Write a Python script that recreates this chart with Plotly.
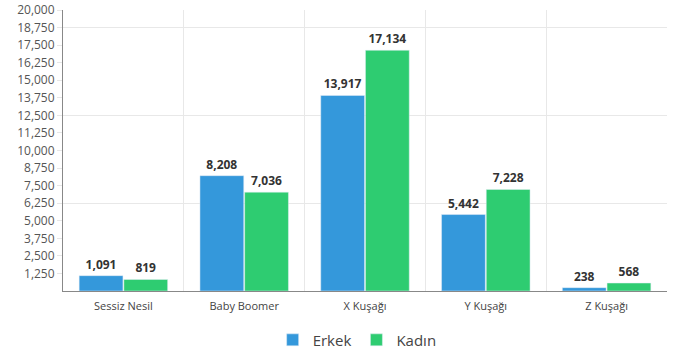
import plotly.graph_objects as go

categories = ["Sessiz Nesil", "Baby Boomer", "X Kuşağı", "Y Kuşağı", "Z Kuşağı"]
erkek = [1091, 8208, 13917, 5442, 238]
kadin = [819, 7036, 17134, 7228, 568]
y_ticks = [1250 * i for i in range(1, 17)]
y_ticktext = [f"{v:,}" for v in y_ticks]

xpos = list(range(len(categories)))

label_font = dict(family="Open Sans", size=12, color="#333333", weight="bold")

fig = go.Figure()
fig.add_trace(go.Bar(
    x=xpos, y=erkek, name="Erkek", marker_color="#3498db",
    text=[f"{v:,}" for v in erkek], textposition="outside",
    textfont=label_font, cliponaxis=False,
))
fig.add_trace(go.Bar(
    x=xpos, y=kadin, name="Kadın", marker_color="#2ecc71",
    text=[f"{v:,}" for v in kadin], textposition="outside",
    textfont=label_font, cliponaxis=False,
))

fig.update_layout(
    width=691, height=358,
    margin=dict(l=63, r=24, t=10, b=67, autoexpand=False),
    paper_bgcolor="white", plot_bgcolor="white",
    barmode="group", bargap=0.26, bargroupgap=0.02,
    font=dict(family="Open Sans", color="#555555", size=11),
    legend=dict(orientation="h", x=0.487, xanchor="center",
                yref="container", y=0.05, yanchor="middle",
                font=dict(size=15, color="#444444"), itemwidth=30,
                traceorder="normal"),
    xaxis=dict(
        range=[-0.5, len(categories) - 0.5],
        tickmode="array", tickvals=xpos, ticktext=categories,
        showgrid=False, zeroline=False,
        showline=True, linecolor="#888888", linewidth=1,
        ticks="", ticklabelstandoff=5, tickfont=dict(size=11, color="#444444"),
        minor=dict(tick0=0.5, dtick=1, showgrid=True, gridcolor="#e8e8e8", ticks=""),
    ),
    yaxis=dict(
        range=[0, 20000],
        tickmode="array", tickvals=y_ticks, ticktext=y_ticktext,
        showgrid=False, zeroline=False,
        showline=True, linecolor="#888888", linewidth=1,
        ticks="outside", ticklen=5, tickcolor="#e6e6e6",
        tickfont=dict(size=12, color="#555555"),
        minor=dict(tick0=0, dtick=6250, showgrid=True, gridcolor="#e8e8e8", ticks=""),
    ),
)

fig.write_html("out.html")
